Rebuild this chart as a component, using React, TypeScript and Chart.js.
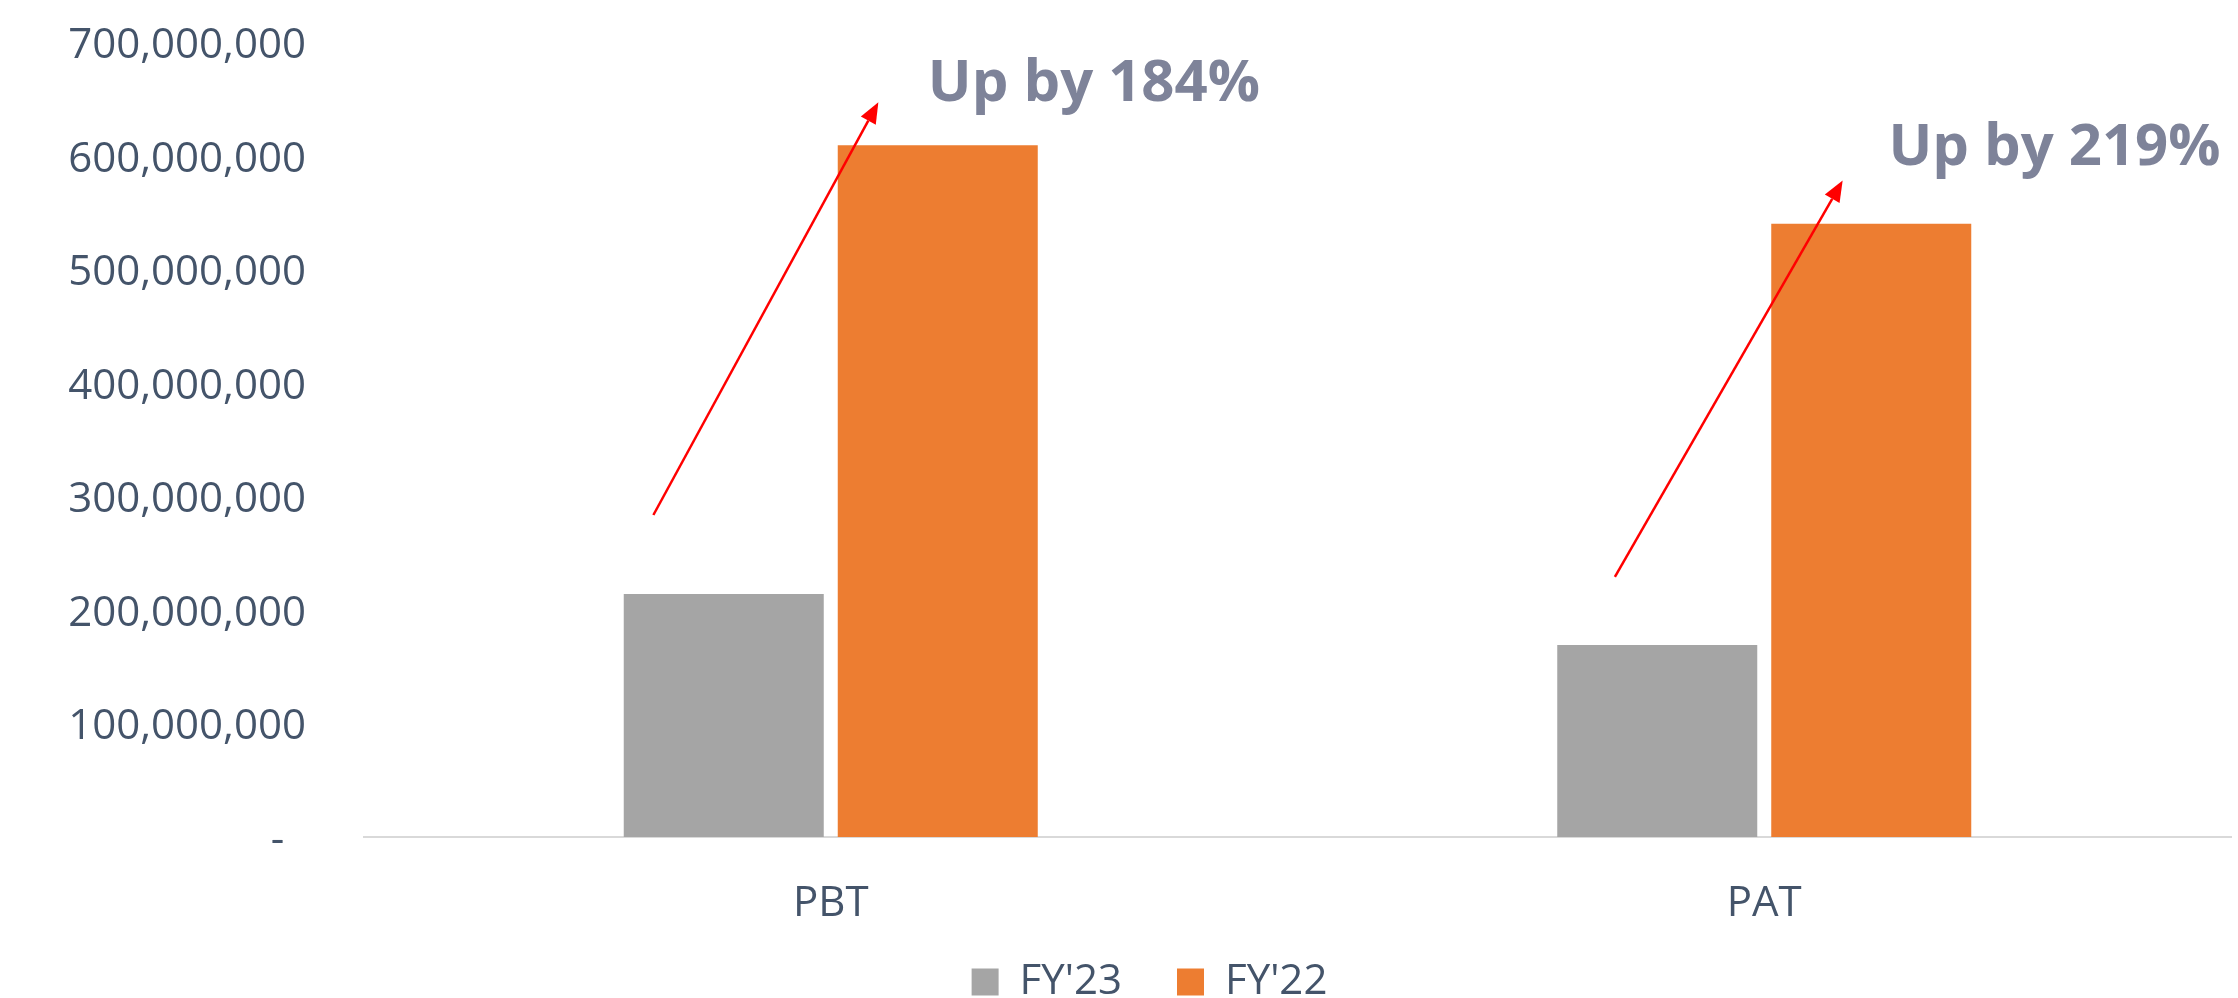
import React, { useEffect, useRef } from "react";
import { Chart, registerables } from "chart.js";

Chart.register(...registerables);

// ---- data ----
const categories = ["PBT", "PAT"];
const seriesLabels = ["FY'23", "FY'22"];
const fy23Values = [214000000, 169000000];
const fy22Values = [609000000, 540000000];
const yTickValues = [0, 100000000, 200000000, 300000000, 400000000, 500000000, 600000000, 700000000];

// annotations (data space: x = category index, y = value)
const annotationTexts = ["Up by 184%", "Up by 219%"];
const annotationX = [0.104, 1.133];
const annotationY = [648000000, 592000000];
const arrowFromX = [-0.19, 0.84];
const arrowFromY = [283500000, 229000000];
const arrowToX = [0.051, 1.084];
const arrowToY = [647000000, 578000000];

const TEXT_COLOR = "#44546A";
const GREY = "#A5A5A5";
const ORANGE = "#ED7D31";
const FONT = "'Open Sans'";

const annotationPlugin = {
  id: "annotations",
  afterLayout(chart: any) {
    const lg = chart.legend;
    if (lg) {
      lg.left += 34;
      lg.right += 34;
      lg.top += 15;
      lg.bottom += 15;
    }
    const xs = chart.scales.x;
    if (xs) {
      // let the category labels overflow the (thin) axis box without clipping
      xs.bottom = xs.top + 120;
    }
  },
  afterDatasetsDraw(chart: any) {
    const { ctx, scales } = chart;
    const xs = scales.x;
    const ys = scales.y;
    ctx.save();
    // arrows
    for (let i = 0; i < arrowFromX.length; i++) {
      const x1 = xs.getPixelForValue(arrowFromX[i]);
      const y1 = ys.getPixelForValue(arrowFromY[i]);
      const x2 = xs.getPixelForValue(arrowToX[i]);
      const y2 = ys.getPixelForValue(arrowToY[i]);
      const ang = Math.atan2(y2 - y1, x2 - x1);
      const headLen = 21;
      const headHalf = 8.5;
      const bx = x2 - headLen * Math.cos(ang);
      const by = y2 - headLen * Math.sin(ang);
      ctx.strokeStyle = "#FF0000";
      ctx.lineWidth = 2.5;
      ctx.lineCap = "butt";
      ctx.beginPath();
      ctx.moveTo(x1, y1);
      ctx.lineTo(bx, by);
      ctx.stroke();
      ctx.fillStyle = "#FF0000";
      ctx.beginPath();
      ctx.moveTo(x2, y2);
      ctx.lineTo(bx + headHalf * Math.sin(ang), by - headHalf * Math.cos(ang));
      ctx.lineTo(bx - headHalf * Math.sin(ang), by + headHalf * Math.cos(ang));
      ctx.closePath();
      ctx.fill();
    }
    // texts
    ctx.font = `bold 58px ${FONT}`;
    ctx.fillStyle = "#7E8399";
    ctx.textAlign = "left";
    ctx.textBaseline = "alphabetic";
    for (let i = 0; i < annotationTexts.length; i++) {
      ctx.fillText(
        annotationTexts[i],
        xs.getPixelForValue(annotationX[i]),
        ys.getPixelForValue(annotationY[i])
      );
    }
    ctx.restore();
  },
};

export default function App() {
  const canvasRef = useRef<HTMLCanvasElement | null>(null);

  useEffect(() => {
    document.body.style.margin = "0";
    const canvas = canvasRef.current;
    if (!canvas) return;
    let chart: any = null;
    let cancelled = false;
    const font = { family: FONT, size: 42 };

    const build = () => {
      if (cancelled) return;
      chart = new Chart(canvas, {
        type: "bar",
        data: {
          labels: categories,
          datasets: [
            {
              label: seriesLabels[0],
              data: fy23Values,
              backgroundColor: GREY,
              borderWidth: 0,
              categoryPercentage: 0.4585,
              barPercentage: 0.9346,
            },
            {
              label: seriesLabels[1],
              data: fy22Values,
              backgroundColor: ORANGE,
              borderWidth: 0,
              categoryPercentage: 0.4585,
              barPercentage: 0.9346,
            },
          ],
        },
        options: {
          responsive: false,
          animation: false,
          layout: { padding: { top: 42, right: 7, bottom: 0, left: 0 } },
          plugins: {
            legend: {
              position: "bottom",
              labels: {
                boxWidth: 27,
                boxHeight: 27,
                padding: 55,
                color: TEXT_COLOR,
                font,
              },
            },
            tooltip: { enabled: false },
            title: { display: false },
          },
          scales: {
            x: {
              grid: { display: false, drawTicks: false },
              border: { display: true, color: "#D9D9D9", width: 2 },
              ticks: { padding: 42, color: TEXT_COLOR, font },
              afterFit: (s: any) => {
                s.height = 54;
                s.paddingLeft = 0;
                s.paddingRight = 0;
              },
            },
            y: {
              min: 0,
              max: 700000000,
              grid: { display: false, drawTicks: false },
              border: { display: false },
              afterBuildTicks: (s: any) => {
                s.ticks = yTickValues.map((v) => ({ value: v }));
              },
              ticks: {
                padding: 58,
                labelOffset: 4,
                color: TEXT_COLOR,
                font,
                callback: (v: any) =>
                  Number(v) === 0 ? "-  " : Number(v).toLocaleString("en-US"),
              },
              afterFit: (s: any) => {
                s.width = 364;
                s.paddingTop = 25;
                s.paddingBottom = 25;
              },
            },
          },
        },
        plugins: [annotationPlugin],
      } as any);
    };

    const fontsApi: any = (document as any).fonts;
    if (fontsApi && fontsApi.load) {
      Promise.all([
        fontsApi.load(`42px ${FONT}`),
        fontsApi.load(`bold 58px ${FONT}`),
      ])
        .catch(() => null)
        .then(build);
    } else {
      build();
    }

    return () => {
      cancelled = true;
      if (chart) chart.destroy();
    };
  }, []);

  return (
    <div style={{ width: 2238, height: 998, position: "relative", background: "#fff" }}>
      <canvas ref={canvasRef} width={2238} height={998} />
    </div>
  );
}
